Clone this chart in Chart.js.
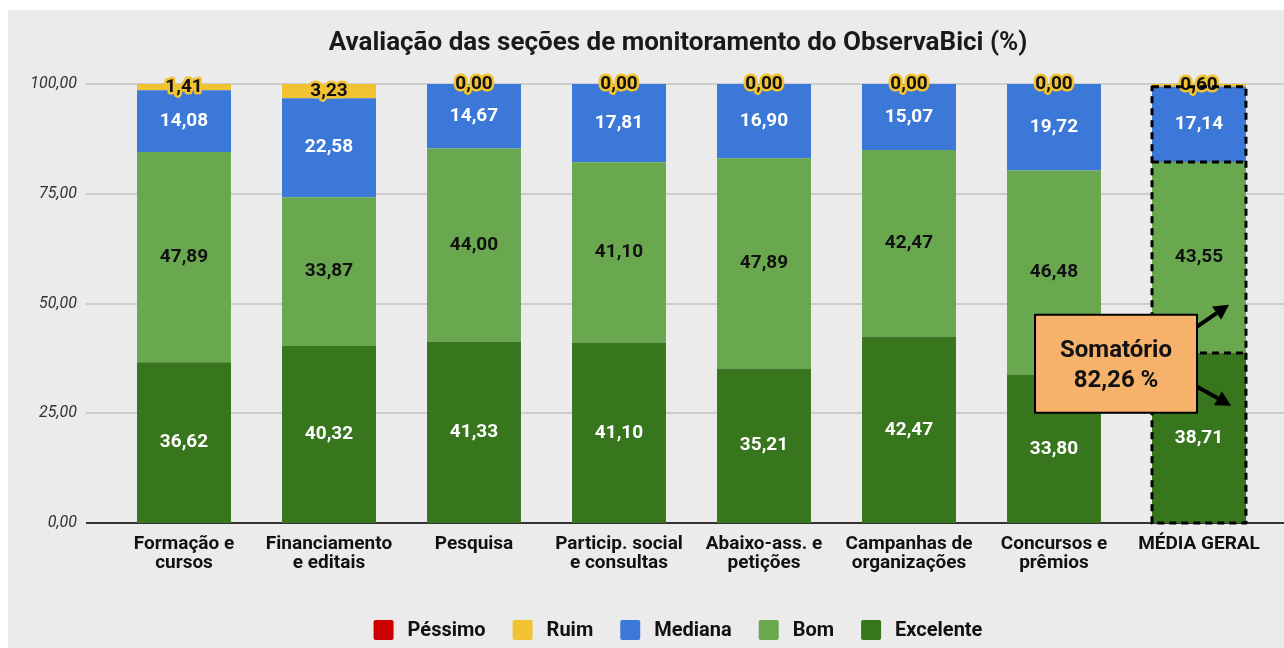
<!DOCTYPE html>
<html><head><meta charset="utf-8">
<script src="https://cdn.jsdelivr.net/npm/chart.js@4.4.1/dist/chart.umd.min.js"></script>
<style>html,body{margin:0;padding:0;background:#fff;overflow:hidden}#wrap{width:1284px;height:648px;position:relative}</style>
</head><body><div id="wrap"><canvas id="c"></canvas></div>
<script>
const categories = [["Formação e","cursos"],["Financiamento","e editais"],["Pesquisa"],["Particip. social","e consultas"],["Abaixo-ass. e","petições"],["Campanhas de","organizações"],["Concursos e","prêmios"],["MÉDIA GERAL"]];
const pessimo   = [0, 0, 0, 0, 0, 0, 0, 0];
const ruim      = [1.41, 3.23, 0, 0, 0, 0, 0, 0.60];
const mediana   = [14.08, 22.58, 14.67, 17.81, 16.90, 15.07, 19.72, 17.14];
const bom       = [47.89, 33.87, 44.00, 41.10, 47.89, 42.47, 46.48, 43.55];
const excelente = [36.62, 40.32, 41.33, 41.10, 35.21, 42.47, 33.80, 38.71];
const yTicks = [0, 25, 50, 75, 100];
const seriesNames = ["Péssimo", "Ruim", "Mediana", "Bom", "Excelente"];
const seriesColors = ["#cc0000", "#f1c232", "#3c78d8", "#6aa84f", "#38761d"];
const chartTitle = "Avaliação das seções de monitoramento do ObservaBici (%)";
const noteLines = ["Somatório", "82,26 %"];

const fmt = v => v.toFixed(2).replace('.', ',');
const FONT = 'Roboto, "Noto Sans", sans-serif';

// datasets bottom-up: Excelente, Bom, Mediana, Ruim, Péssimo
const seriesData = [pessimo, ruim, mediana, bom, excelente];
const datasets = [4,3,2,1,0].map(i => ({
  label: seriesNames[i],
  data: seriesData[i],
  backgroundColor: seriesColors[i],
  borderWidth: 0,
  barPercentage: 0.648,
  categoryPercentage: 1.0,
  sIndex: i
}));

const deco = {
  id: 'deco',
  beforeDraw(chart) {
    const ctx = chart.ctx, W = chart.width, H = chart.height;
    ctx.save();
    ctx.fillStyle = '#ffffff'; ctx.fillRect(0, 0, W, H);
    ctx.fillStyle = '#ebebeb'; ctx.fillRect(8, 10, W - 8, H - 10);
    // title
    ctx.fillStyle = '#1a1a1a';
    ctx.font = 'bold 26px ' + FONT;
    ctx.textAlign = 'center'; ctx.textBaseline = 'middle';
    ctx.fillText(chartTitle, 678, 43);
    // legend
    ctx.font = 'bold 20px ' + FONT;
    const box = 20, gap1 = 14, gap2 = 27;
    const widths = seriesNames.map(n => ctx.measureText(n).width);
    const total = widths.reduce((a, b) => a + b, 0) + seriesNames.length * (box + gap1) + (seriesNames.length - 1) * gap2;
    let x = 678 - total / 2; const yc = 630;
    ctx.textAlign = 'left';
    seriesNames.forEach((n, i) => {
      ctx.fillStyle = seriesColors[i];
      ctx.beginPath(); ctx.roundRect(x, yc - box / 2, box, box, 2); ctx.fill();
      x += box + gap1;
      ctx.fillStyle = '#111';
      ctx.fillText(n, x, yc + 1);
      x += widths[i] + gap2;
    });
    ctx.restore();
  },
  beforeDatasetsDraw(chart) {
    const ctx = chart.ctx, ys = chart.scales.y, a = chart.chartArea;
    ctx.save();
    yTicks.forEach(v => {
      const py = Math.round(ys.getPixelForValue(v));
      ctx.strokeStyle = v === 0 ? '#333333' : '#c2c2c2';
      ctx.lineWidth = v === 0 ? 2 : 1.5;
      ctx.beginPath(); ctx.moveTo(a.left - 25.5, py); ctx.lineTo(chart.width, py); ctx.stroke();
    });
    ctx.restore();
  },
  afterDatasetsDraw(chart) {
    const ctx = chart.ctx, ys = chart.scales.y;
    ctx.save();
    ctx.textAlign = 'center'; ctx.textBaseline = 'middle';
    ctx.font = 'bold 19px ' + FONT;
    chart.data.datasets.forEach((ds, di) => {
      const s = ds.sIndex;
      if (s === 0) return;
      const meta = chart.getDatasetMeta(di);
      meta.data.forEach((el, j) => {
        const yc = (el.y + el.base) / 2;
        const txt = fmt(ds.data[j]);
        if (s === 1) {
          ctx.lineJoin = 'round';
          ctx.strokeStyle = '#f1c232'; ctx.lineWidth = 5;
          ctx.strokeText(txt, el.x, yc);
          ctx.fillStyle = '#111';
          ctx.fillText(txt, el.x, yc);
        } else {
          ctx.fillStyle = (s === 3) ? '#111' : '#ffffff';
          ctx.fillText(txt, el.x, yc);
        }
      });
    });
    // dashed highlight on MÉDIA GERAL
    const k = categories.length - 1;
    const el = chart.getDatasetMeta(2).data[k];
    const l = el.x - el.width / 2, r = el.x + el.width / 2;
    const top = ys.getPixelForValue(100 - ruim[k]);
    const bot = ys.getPixelForValue(0);
    const y1 = ys.getPixelForValue(excelente[k] + bom[k]);
    const y2 = ys.getPixelForValue(excelente[k]);
    ctx.strokeStyle = '#000'; ctx.lineWidth = 3; ctx.setLineDash([7, 5]);
    ctx.strokeRect(l, top, r - l, bot - top);
    ctx.beginPath(); ctx.moveTo(l, y1); ctx.lineTo(r, y1); ctx.moveTo(l, y2); ctx.lineTo(r, y2); ctx.stroke();
    ctx.setLineDash([]);
    // note box
    const bx1 = l + 45, bx0 = bx1 - 162;
    const byc = ys.getPixelForValue(36.3);
    const by0 = byc - 49;
    ctx.fillStyle = '#f6b26b';
    ctx.fillRect(bx0, by0, 162, 98);
    ctx.lineWidth = 2; ctx.strokeStyle = '#000';
    ctx.strokeRect(bx0, by0, 162, 98);
    ctx.fillStyle = '#111';
    ctx.font = 'bold 24px ' + FONT;
    ctx.fillText(noteLines[0], bx0 + 81, by0 + 36);
    ctx.fillText(noteLines[1], bx0 + 81, by0 + 66);
    // arrows
    const arrow = (x0, y0, x1, y1) => {
      const ang = Math.atan2(y1 - y0, x1 - x0), hl = 15, hw = 8;
      const bxp = x1 - hl * Math.cos(ang), byp = y1 - hl * Math.sin(ang);
      ctx.lineWidth = 4; ctx.strokeStyle = '#000';
      ctx.beginPath(); ctx.moveTo(x0, y0); ctx.lineTo(bxp, byp); ctx.stroke();
      ctx.fillStyle = '#000';
      ctx.beginPath();
      ctx.moveTo(x1, y1);
      ctx.lineTo(bxp + hw * Math.sin(ang), byp - hw * Math.cos(ang));
      ctx.lineTo(bxp - hw * Math.sin(ang), byp + hw * Math.cos(ang));
      ctx.closePath(); ctx.fill();
    };
    arrow(bx1, by0 + 12, bx1 + 32, by0 - 10);
    arrow(bx1, by0 + 72, bx1 + 34, by0 + 91);
    ctx.restore();
  }
};

new Chart(document.getElementById('c'), {
  type: 'bar',
  data: { labels: categories, datasets },
  options: {
    responsive: true, maintainAspectRatio: false, animation: false,
    layout: { padding: { left: 8, right: 12.5, top: 84, bottom: 0 } },
    plugins: { legend: { display: false }, title: { display: false }, tooltip: { enabled: false } },
    scales: {
      x: {
        stacked: true,
        grid: { display: false }, border: { display: false },
        ticks: { color: '#111', font: { family: FONT, size: 19, weight: 'bold', lineHeight: 1.0 }, padding: 4, maxRotation: 0, autoSkip: false },
        afterFit: s => { s.height = 125; }
      },
      y: {
        stacked: true, min: 0, max: 100,
        grid: { display: false }, border: { display: false },
        afterBuildTicks: s => { s.ticks = yTicks.map(v => ({ value: v })); },
        ticks: { color: '#333', font: { family: FONT, size: 16, style: 'italic' }, padding: 26.5, callback: v => fmt(v) },
        afterFit: s => { s.width = 103.5; }
      }
    }
  },
  plugins: [deco]
});
</script></body></html>
